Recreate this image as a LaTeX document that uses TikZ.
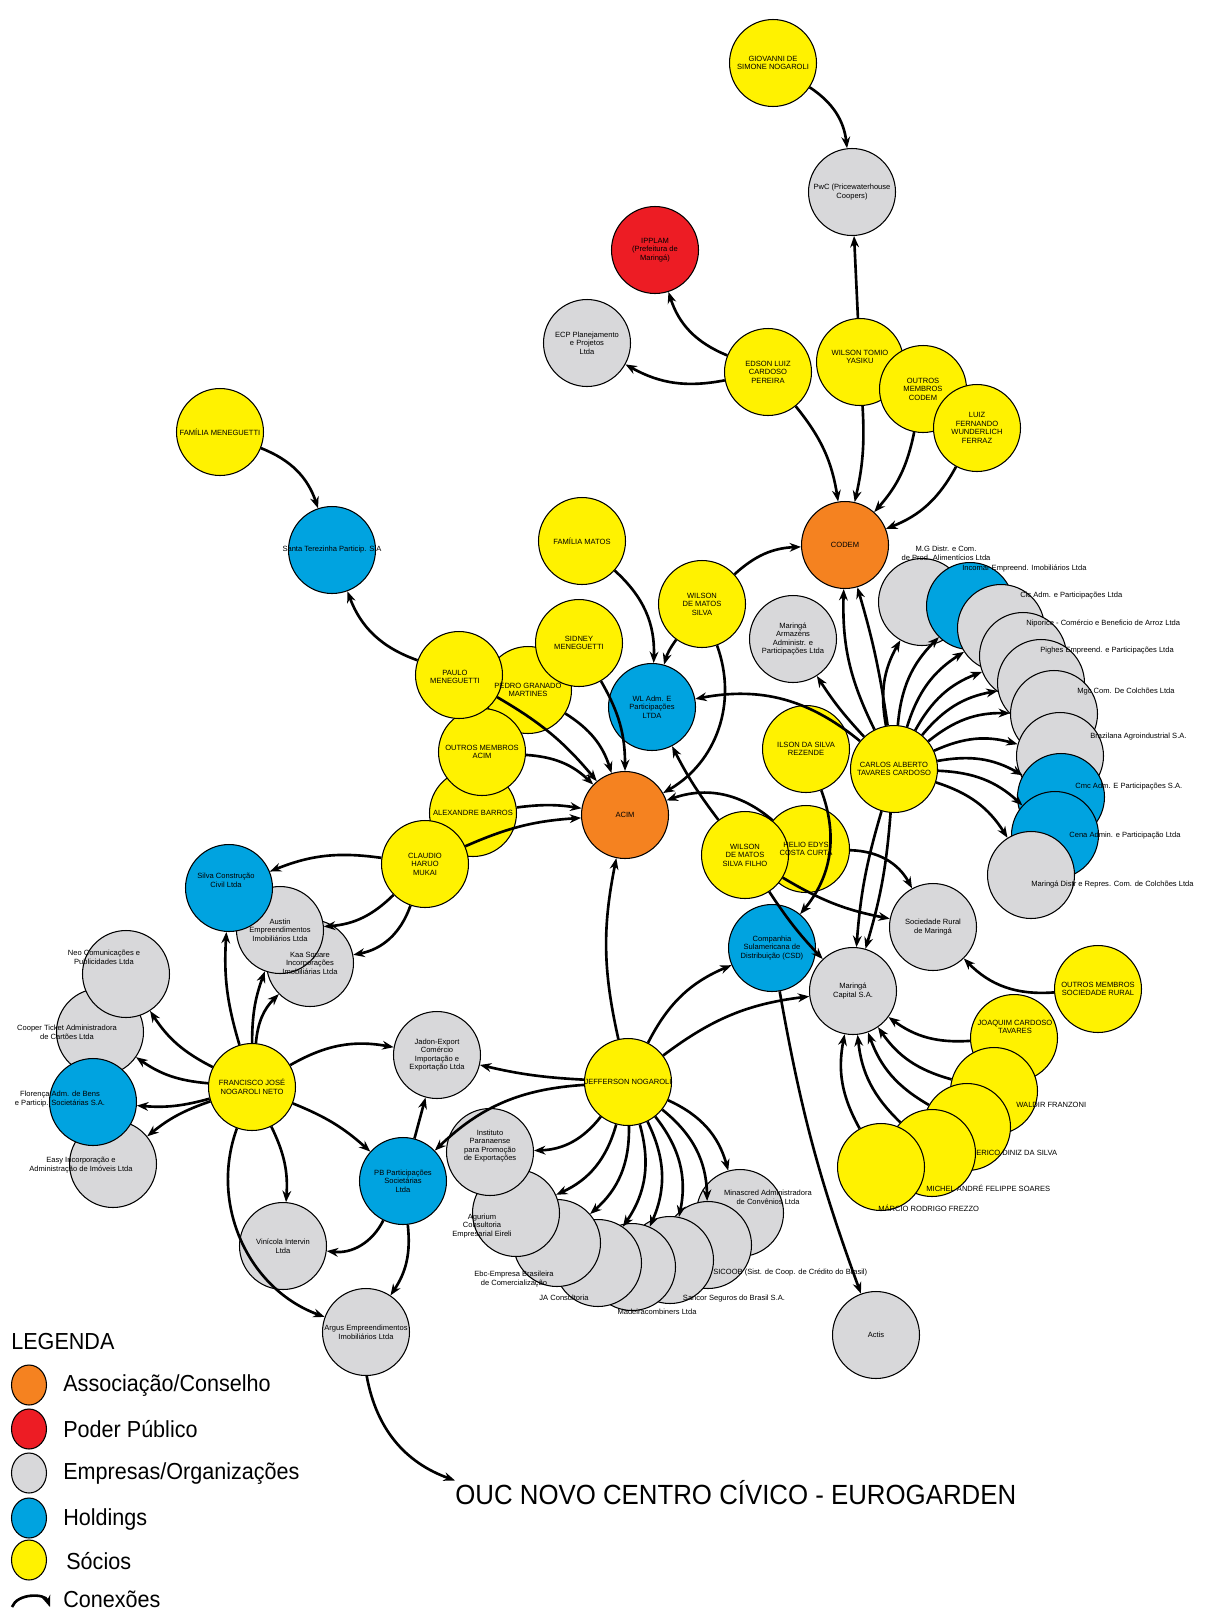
\documentclass[tikz,border=0pt]{standalone}
\usepackage{fontspec}
\setmainfont{Liberation Sans}
\newfontfamily\legfont[FakeStretch=0.93]{Liberation Sans}
\usetikzlibrary{positioning,arrows.meta,shapes.geometric}

\definecolor{socioyellow}{RGB}{255,242,0}
\definecolor{assocorange}{RGB}{245,130,32}
\definecolor{poderred}{RGB}{237,28,36}
\definecolor{empresagrey}{RGB}{216,216,218}
\definecolor{holdingblue}{RGB}{0,163,224}
\newcommand{\nodefont}{\fontsize{4.3}{4.9}\selectfont}

\begin{document}
\begin{tikzpicture}[x=0.02cm, y=-0.02cm,
    ent/.style={circle, draw=black, line width=0.6pt, minimum size=1.74cm, inner sep=0pt},
    socio/.style={ent, fill=socioyellow},
    assoc/.style={ent, fill=assocorange},
    poder/.style={ent, fill=poderred},
    empresa/.style={ent, fill=empresagrey},
    holding/.style={ent, fill=holdingblue},
    lbl/.style={font=\nodefont, align=center, inner sep=0pt},
    conn/.style={-{Stealth[length=6.5pt, width=5pt]}, line width=1.5pt},
    legcirc/.style={ellipse, draw=black, line width=0.6pt, minimum width=0.7cm, minimum height=0.8cm},
    legtxt/.style={font=\legfont\fontsize{13.2}{15}\selectfont, anchor=west, inner sep=0pt}
  ]
\useasboundingbox (0,0) rectangle (1209,1620);

% circles, back to front
\node[socio] (giov) at (773,63) {};
\node[empresa] (pwc) at (852,192) {};
\node[poder] (ipplam) at (655,250) {};
\node[empresa] (ecp) at (587,343) {};
\node[socio] (edson) at (768,372) {};
\node[socio] (tomio) at (860,362) {};
\node[socio] (outcodem) at (923,389) {};
\node[socio] (luiz) at (977,428) {};
\node[assoc] (codem) at (845,545) {};
\node[socio] (fammen) at (220,432) {};
\node[holding] (santa) at (332,550) {};
\node[socio] (fammatos) at (582,541) {};
\node[socio] (wmsilva) at (702,604) {};
\node[empresa] (armaz) at (793,639) {};
\node[holding] (wl) at (652,707) {};
\node[socio] (pedro) at (528,690) {};
\node[socio] (sidney) at (579,643) {};
\node[socio] (alex) at (473,813) {};
\node[socio] (claudio) at (425,864) {};
\node[socio] (outacim) at (482,752) {};
\node[socio] (paulo) at (459,675) {};
\node[assoc] (acim) at (625,815) {};
\node[socio] (ilson) at (806,749) {};
\node[socio] (carlos) at (894,769) {};
\node[socio] (helio) at (806,849) {};
\node[socio] (wmfilho) at (745,855) {};
\node[empresa] (mg) at (922,602) {};
\node[holding] (incomar) at (970,606) {};
\node[empresa] (cic) at (1001,628) {};
\node[empresa] (niporice) at (1023,656) {};
\node[empresa] (pighes) at (1041,683) {};
\node[empresa] (mgc) at (1054,714) {};
\node[empresa] (brazil) at (1060,756) {};
\node[holding] (cmc) at (1061,797) {};
\node[holding] (cena) at (1055,835) {};
\node[empresa] (mdistr) at (1031,875) {};
\node[empresa] (kaa) at (310,963) {};
\node[empresa] (austin) at (280,930) {};
\node[holding] (silva) at (229,888) {};
\node[empresa] (cooper) at (100,1032) {};
\node[empresa] (neo) at (126,974) {};
\node[empresa] (easy) at (113,1164) {};
\node[holding] (florenca) at (93,1102) {};
\node[socio] (francisco) at (252,1087) {};
\node[empresa] (jadon) at (437,1055) {};
\node[holding] (pb) at (403,1181) {};
\node[empresa] (vinicola) at (283,1246) {};
\node[empresa] (argus) at (366,1332) {};
\node[empresa] (socrural) at (933,927) {};
\node[holding] (csd) at (772,948) {};
\node[empresa] (capital) at (853,991) {};
\node[socio] (outsoc) at (1098,989) {};
\node[socio] (joaquim) at (1014,1038) {};
\node[socio] (waldir) at (994,1091) {};
\node[socio] (erico) at (967,1127) {};
\node[socio] (michel) at (932,1153) {};
\node[socio] (marcio) at (881,1167) {};
\node[empresa] (minascred) at (740,1213) {};
\node[empresa] (sicoob) at (708,1245) {};
\node[empresa] (sancor) at (670,1260) {};
\node[empresa] (madeira) at (632,1267) {};
\node[empresa] (ja) at (598,1263) {};
\node[empresa] (ebc) at (557,1243) {};
\node[empresa] (agurium) at (516,1213) {};
\node[empresa] (instituto) at (490,1152) {};
\node[socio] (jefferson) at (628,1082) {};
\node[empresa] (actis) at (876,1335) {};

% connections
\node[font=\legfont\fontsize{15.8}{18}\selectfont, anchor=west, inner sep=0pt] (title) at (455,1493) {OUC NOVO CENTRO CÍVICO - EUROGARDEN};
\draw[conn] (giov) to[bend left=25] (pwc);
\draw[conn] (tomio) -- (pwc);
\draw[conn] (edson) to[bend left=25] (ipplam);
\draw[conn] (edson) to[bend left=20] (ecp);
\draw[conn] (edson) to[bend left=15] (codem);
\draw[conn] (tomio) to[bend left=8] (codem);
\draw[conn] (outcodem) to[bend left=15] (codem);
\draw[conn] (luiz) to[bend left=20] (codem);
\draw[conn] (wmsilva) to[bend left=20] (codem);
\draw[conn] (carlos) to[bend left=14] (codem);
\draw[conn] (carlos) to[bend right=4] (codem);
\draw[conn] (fammen) to[bend left=25] (santa);
\draw[conn] (paulo) to[bend left=25] (santa);
\draw[conn] (fammatos) to[bend left=25] (wl);
\draw[conn] (wmsilva) to[bend right=10] (wl);
\draw[conn] (wmsilva) to[bend left=40] (acim);
\draw[conn] (carlos) to[bend right=25] (wl);
\draw[conn] (wmfilho) to[bend left=5] (wl);
\draw[conn] (helio) to[bend right=30] (acim);
\draw[conn] (paulo) to[bend left=10] (acim);
\draw[conn] (pedro) to[bend left=20] (acim);
\draw[conn] (sidney) to[bend left=15] (acim);
\draw[conn] (outacim) to[bend left=20] (acim);
\draw[conn] (alex) to[bend left=8] (acim);
\draw[conn] (claudio) to[bend left=10] (acim);
\draw[conn] (jefferson) to[bend left=12] (acim);
\draw[conn] (carlos) to[bend left=5] (armaz);
\foreach \t in {mg,incomar,cic,niporice,pighes,mgc,brazil,cmc,cena,mdistr}
  \draw[conn] (carlos) to[bend left=20] (\t);
\draw[conn] (carlos) to[bend right=6] (capital);
\draw[conn] (carlos) to[bend left=6] (capital);
\draw[conn] (wmfilho) to[bend right=5] (capital);
\draw[conn] (wmfilho) to[bend right=10] (socrural);
\draw[conn] (helio) to[bend left=30] (socrural);
\draw[conn] (ilson) to[bend left=30] (csd);
\draw[conn] (csd) to[bend right=5] (actis);
\draw[conn] (jefferson) to[bend left=20] (csd);
\draw[conn] (jefferson) to[bend left=15] (capital);
\draw[conn] (jefferson) to[bend left=5] (jadon);
\draw[conn] (jefferson) to[bend right=20] (pb);
\foreach \t in {instituto,agurium,ebc,ja,madeira,sancor,sicoob,minascred}
  \draw[conn] (jefferson) to[bend left=25] (\t);
\draw[conn] (pb) -- (jadon);
\draw[conn] (francisco) to[bend left=20] (jadon);
\draw[conn] (francisco) to[bend left=10] (pb);
\draw[conn] (francisco) to[bend left=10] (silva);
\draw[conn] (francisco) to[bend left=10] (austin);
\draw[conn] (francisco) to[bend left=20] (kaa);
\draw[conn] (francisco) to[bend left=15] (neo);
\draw[conn] (francisco) to[bend left=15] (cooper);
\draw[conn] (francisco) to[bend left=10] (florenca);
\draw[conn] (francisco) to[bend right=10] (easy);
\draw[conn] (francisco) to[bend left=15] (vinicola);
\draw[conn] (francisco) to[bend right=45] (argus);
\draw[conn] (pb) to[bend left=35] (vinicola);
\draw[conn] (pb) to[bend left=20] (argus);
\draw[conn] (claudio) to[bend right=15] (silva);
\draw[conn] (claudio) to[bend left=20] (austin);
\draw[conn] (claudio) to[bend left=30] (kaa);
\draw[conn] (outsoc) to[bend left=25] (socrural);
\foreach \t in {joaquim,waldir,erico,michel,marcio}
  \draw[conn] (\t) to[bend left=20] (capital);
\draw[conn] (argus) to[bend right=30] (title.north west);

% texts
\node[lbl] (giovT) at (giov) {GIOVANNI DE\\SIMONE NOGAROLI};
\node[lbl] (pwcT) at (pwc) {PwC (Pricewaterhouse\\Coopers)};
\node[lbl] (ipplamT) at (ipplam) {IPPLAM\\(Prefeitura de\\Maringá)};
\node[lbl] (ecpT) at (ecp) {ECP Planejamento\\e Projetos\\Ltda};
\node[lbl] (edsonT) at (edson) {EDSON LUIZ\\CARDOSO\\PEREIRA};
\node[lbl] (tomioT) at (860,357) {WILSON TOMIO\\YASIKU};
\node[lbl] (outcodemT) at (outcodem) {OUTROS\\MEMBROS\\CODEM};
\node[lbl] (luizT) at (luiz) {LUIZ\\FERNANDO\\WUNDERLICH\\FERRAZ};
\node[lbl] (codemT) at (codem) {CODEM};
\node[lbl] (fammenT) at (fammen) {FAMÍLIA MENEGUETTI};
\node[lbl] (santaT) at (santa) {Santa Terezinha Particip. S.A};
\node[lbl] (fammatosT) at (fammatos) {FAMÍLIA MATOS};
\node[lbl] (wmsilvaT) at (wmsilva) {WILSON\\DE MATOS\\SILVA};
\node[lbl] (armazT) at (armaz) {Maringá\\Armazéns\\Administr. e\\Participações Ltda};
\node[lbl] (wlT) at (wl) {WL Adm. E\\Participações\\LTDA};
\node[lbl] (pedroT) at (pedro) {PEDRO GRANADO\\MARTINES};
\node[lbl] (sidneyT) at (sidney) {SIDNEY\\MENEGUETTI};
\node[lbl] (alexT) at (alex) {ALEXANDRE BARROS};
\node[lbl] (claudioT) at (claudio) {CLAUDIO\\HARUO\\MUKAI};
\node[lbl] (outacimT) at (outacim) {OUTROS MEMBROS\\ACIM};
\node[lbl] (pauloT) at (455,677) {PAULO\\MENEGUETTI};
\node[lbl] (acimT) at (acim) {ACIM};
\node[lbl] (ilsonT) at (ilson) {ILSON DA SILVA\\REZENDE};
\node[lbl] (carlosT) at (carlos) {CARLOS ALBERTO\\TAVARES CARDOSO};
\node[lbl] (helioT) at (helio) {HELIO EDYS\\COSTA CURTA};
\node[lbl] (wmfilhoT) at (wmfilho) {WILSON\\DE MATOS\\SILVA FILHO};
\node[lbl] (mgT) at (946,553) {M.G Distr. e Com.\\de Prod. Alimentícios Ltda};
\node[lbl, anchor=west] (incomarT) at (962,568) {Incomar Empreend. Imobiliários Ltda};
\node[lbl, anchor=west] (cicT) at (1020,596) {Cic Adm. e Participações Ltda};
\node[lbl, anchor=west] (niporiceT) at (1026,623) {Niporice - Comércio e Beneficio de Arroz Ltda};
\node[lbl, anchor=west] (pighesT) at (1040,651) {Pighes Empreend. e Participações Ltda};
\node[lbl, anchor=west] (mgcT) at (1077,692) {Mgc Com. De Colchões Ltda};
\node[lbl, anchor=west] (brazilT) at (1090,737) {Brazilana Agroindustrial S.A.};
\node[lbl, anchor=west] (cmcT) at (1075,787) {Cmc Adm. E Participações S.A.};
\node[lbl, anchor=west] (cenaT) at (1069,836) {Cena Admin. e Participação Ltda};
\node[lbl, anchor=west] (mdistrT) at (1031,884) {Maringá Distr e Repres. Com. de Colchões Ltda};
\node[lbl] (kaaT) at (kaa) {Kaa Square\\Incorporações\\Imobiliárias Ltda};
\node[lbl] (austinT) at (austin) {Austin\\Empreendimentos\\Imobiliários Ltda};
\node[lbl] (silvaT) at (226,880) {Silva Construção\\Civil Ltda};
\node[lbl] (neoT) at (104,957) {Neo Comunicações e\\Publicidades Ltda};
\node[lbl] (cooperT) at (67,1032) {Cooper Ticket Administradora\\de Cartões Ltda};
\node[lbl] (florencaT) at (60,1099) {Florença Adm. de Bens\\e Particip. Societárias S.A.};
\node[lbl] (easyT) at (81,1165) {Easy Incorporação e\\Administração de Imóveis Ltda};
\node[lbl] (franciscoT) at (francisco) {FRANCISCO JOSÉ\\NOGAROLI NETO};
\node[lbl] (jadonT) at (jadon) {Jadon-Export\\Comércio\\Importação e\\Exportação Ltda};
\node[lbl] (pbT) at (pb) {PB Participações\\Societárias\\Ltda};
\node[lbl] (vinicolaT) at (vinicola) {Vinícola Intervin\\Ltda};
\node[lbl] (argusT) at (argus) {Argus Empreendimentos\\Imobiliários Ltda};
\node[lbl] (socruralT) at (socrural) {Sociedade Rural\\de Maringá};
\node[lbl] (csdT) at (csd) {Companhia\\Sulamericana de\\Distribuição (CSD)};
\node[lbl] (capitalT) at (capital) {Maringá\\Capital S.A.};
\node[lbl] (outsocT) at (outsoc) {OUTROS MEMBROS\\SOCIEDADE RURAL};
\node[lbl] (joaquimT) at (1015,1027) {JOAQUIM CARDOSO\\TAVARES};
\node[lbl, anchor=west] (waldirT) at (1016,1105) {WALDIR FRANZONI};
\node[lbl, anchor=west] (ericoT) at (976,1153) {ERICO DINIZ DA SILVA};
\node[lbl, anchor=west] (michelT) at (926,1188) {MICHEL ANDRÉ FELIPPE SOARES};
\node[lbl, anchor=west] (marcioT) at (878,1208) {MÁRCIO RODRIGO FREZZO};
\node[lbl] (minascredT) at (768,1197) {Minascred Administradora\\de Convênios Ltda};
\node[lbl, anchor=west] (sicoobT) at (713,1272) {SICOOB (Sist. de Coop. de Crédito do Brasil)};
\node[lbl] (sancorT) at (734,1299) {Sancor Seguros do Brasil S.A.};
\node[lbl] (madeiraT) at (657,1312) {Madeiracombiners Ltda};
\node[lbl] (jaT) at (564,1298) {JA Consultoria};
\node[lbl] (ebcT) at (514,1279) {Ebc-Empresa Brasileira\\de Comercialização};
\node[lbl] (aguriumT) at (482,1226) {Agurium\\Consultoria\\Empresarial Eireli};
\node[lbl] (institutoT) at (490,1146) {Instituto\\Paranaense\\para Promoção\\de Exportações};
\node[lbl] (jeffersonT) at (jefferson) {JEFFERSON NOGAROLI};
\node[lbl] (actisT) at (actis) {Actis};

% legend
\node[legtxt] (legenda) at (11,1341) {LEGENDA};
\node[legcirc, fill=assocorange] (legA) at (29,1385) {};
\node[legcirc, fill=poderred] (legP) at (29,1429) {};
\node[legcirc, fill=empresagrey] (legE) at (29,1473) {};
\node[legcirc, fill=holdingblue] (legH) at (29,1518) {};
\node[legcirc, fill=socioyellow] (legS) at (29,1560) {};
\node[legtxt] (legAT) at (63,1386) {Associação/Conselho};
\node[legtxt] (legPT) at (63,1429) {Poder Público};
\node[legtxt] (legET) at (63,1474) {Empresas/Organizações};
\node[legtxt] (legHT) at (63,1519) {Holdings};
\node[legtxt] (legST) at (66,1561) {Sócios};
\node[legtxt] (legCT) at (63,1599) {Conexões};
\coordinate (cxa) at (12,1607);
\coordinate (cxb) at (50,1607);
\draw[conn] (cxa) to[bend left=70] (cxb);
\end{tikzpicture}
\end{document}
